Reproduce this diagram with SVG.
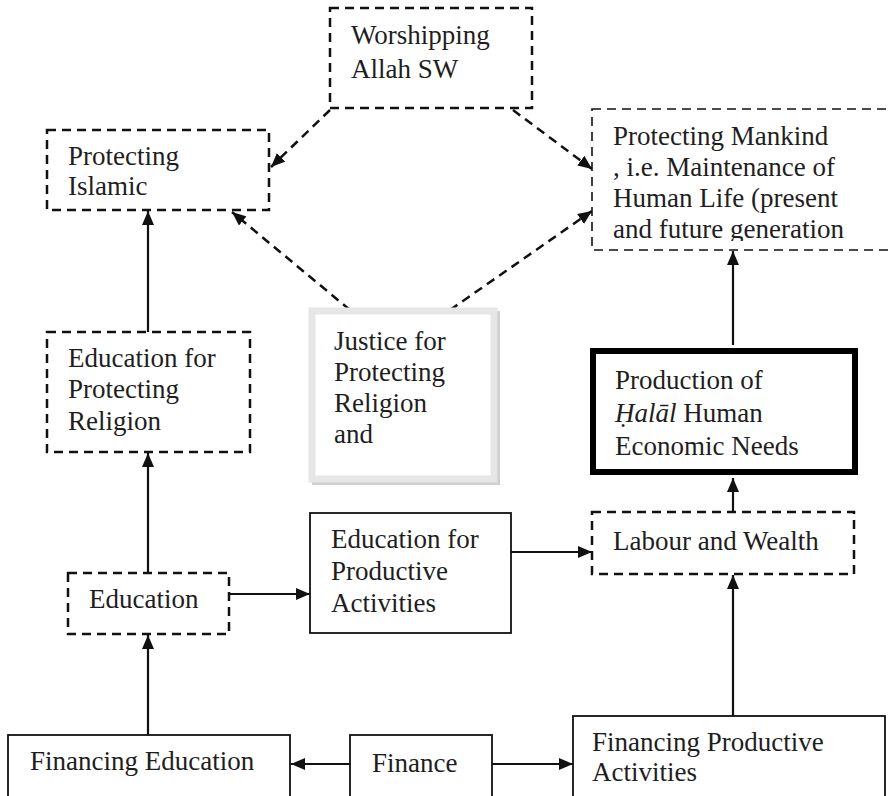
<svg xmlns="http://www.w3.org/2000/svg" width="888" height="796" viewBox="0 0 888 796">
  <defs>
    <style>
      .lbl { font-family: 'Liberation Serif', Tinos, 'Times New Roman', 'DejaVu Serif', 'Noto Serif', serif; font-size: 27px; fill: #1e1e1e; }
      .dash { fill: #fff; stroke: #111; stroke-width: 2.5; stroke-dasharray: 9 6; }
      .dash-thin { fill: #fff; stroke: #111; stroke-width: 1.6; stroke-dasharray: 9 6; }
      .solid { fill: #fff; stroke: #111; stroke-width: 1.8; }
      .heavy { fill: #fff; stroke: #000; stroke-width: 6; }
      .link { fill: none; stroke: #111; stroke-width: 2.2; }
      .link-dash { fill: none; stroke: #111; stroke-width: 2.5; stroke-dasharray: 9 6; }
    </style>
    <marker id="head" viewBox="0 0 14 12" refX="14" refY="6" markerWidth="14" markerHeight="12" markerUnits="userSpaceOnUse" orient="auto">
      <path d="M0,0 L14,6 L0,12 z" fill="#111"/>
    </marker>
    <clipPath id="mankind-clip">
      <rect x="592" y="109" width="300" height="132"/>
    </clipPath>
  </defs>

  <rect width="888" height="796" fill="#fff"/>

  <!-- connectors -->
  <g id="connectors">
    <line class="link-dash" x1="330" y1="110" x2="271" y2="167" marker-end="url(#head)"/>
    <line class="link-dash" x1="513" y1="110" x2="592" y2="169" marker-end="url(#head)"/>
    <line class="link-dash" x1="350" y1="310" x2="232" y2="212" marker-end="url(#head)"/>
    <line class="link-dash" x1="450" y1="310" x2="592" y2="211" marker-end="url(#head)"/>
    <line class="link" x1="148" y1="332" x2="148" y2="211" marker-end="url(#head)"/>
    <line class="link" x1="148" y1="573" x2="148" y2="453" marker-end="url(#head)"/>
    <line class="link" x1="148" y1="735" x2="148" y2="635" marker-end="url(#head)"/>
    <line class="link" x1="229" y1="594" x2="310" y2="594" marker-end="url(#head)"/>
    <line class="link" x1="511" y1="552" x2="592" y2="552" marker-end="url(#head)"/>
    <line class="link" x1="350" y1="764" x2="291" y2="764" marker-end="url(#head)"/>
    <line class="link" x1="492" y1="764" x2="573" y2="764" marker-end="url(#head)"/>
    <line class="link" x1="733" y1="716" x2="733" y2="575" marker-end="url(#head)"/>
    <line class="link" x1="733" y1="512" x2="733" y2="478" marker-end="url(#head)"/>
    <line class="link" x1="733" y1="345" x2="733" y2="251" marker-end="url(#head)"/>
  </g>

  <g id="worshipping">
    <rect class="dash" x="330" y="8" width="202" height="100"/>
    <text class="lbl"><tspan x="351" y="44">Worshipping</tspan><tspan x="351" y="78">Allah SW</tspan></text>
  </g>

  <g id="protecting-islamic">
    <rect class="dash" x="47" y="130" width="222" height="80"/>
    <text class="lbl"><tspan x="68" y="165">Protecting</tspan><tspan x="68" y="195">Islamic</tspan></text>
  </g>

  <g id="protecting-mankind">
    <rect class="dash-thin" x="592" y="109" width="310" height="141"/>
    <text class="lbl" clip-path="url(#mankind-clip)"><tspan x="613" y="145">Protecting Mankind</tspan><tspan x="613" y="176">, i.e. Maintenance of</tspan><tspan x="613" y="207">Human Life (present</tspan><tspan x="613" y="238">and future generation</tspan></text>
  </g>

  <g id="justice">
    <rect x="312" y="311" width="188" height="174" fill="#cfcfcf"/>
    <rect x="312" y="311" width="182" height="168" fill="#fff" stroke="#e6e6e6" stroke-width="7"/>
    <text class="lbl"><tspan x="334" y="350">Justice for</tspan><tspan x="334" y="381">Protecting</tspan><tspan x="334" y="412">Religion</tspan><tspan x="334" y="443">and</tspan></text>
  </g>

  <g id="education-religion">
    <rect class="dash" x="47" y="332" width="203" height="120"/>
    <text class="lbl"><tspan x="68" y="367">Education for</tspan><tspan x="68" y="398">Protecting</tspan><tspan x="68" y="430">Religion</tspan></text>
  </g>

  <g id="production">
    <rect class="heavy" x="593" y="351" width="262" height="121"/>
    <text class="lbl"><tspan x="615" y="389">Production of</tspan><tspan x="615" y="422"><tspan font-style="italic">Ḥalāl</tspan> Human</tspan><tspan x="615" y="455">Economic Needs</tspan></text>
  </g>

  <g id="labour-wealth">
    <rect class="dash" x="592" y="512" width="262" height="62"/>
    <text class="lbl" x="613" y="550">Labour and Wealth</text>
  </g>

  <g id="education-productive">
    <rect class="solid" x="310" y="513" width="201" height="120"/>
    <text class="lbl"><tspan x="331" y="548">Education for</tspan><tspan x="331" y="580">Productive</tspan><tspan x="331" y="612">Activities</tspan></text>
  </g>

  <g id="education">
    <rect class="dash" x="68" y="573" width="161" height="61"/>
    <text class="lbl" x="89" y="608">Education</text>
  </g>

  <g id="financing-education">
    <rect class="solid" x="8" y="735" width="282" height="70"/>
    <text class="lbl" x="30" y="770">Financing Education</text>
  </g>

  <g id="finance">
    <rect class="solid" x="350" y="735" width="142" height="70"/>
    <text class="lbl" x="372" y="772">Finance</text>
  </g>

  <g id="financing-productive">
    <rect class="solid" x="573" y="716" width="312" height="90"/>
    <text class="lbl"><tspan x="592" y="751">Financing Productive</tspan><tspan x="592" y="781">Activities</tspan></text>
  </g>
</svg>
